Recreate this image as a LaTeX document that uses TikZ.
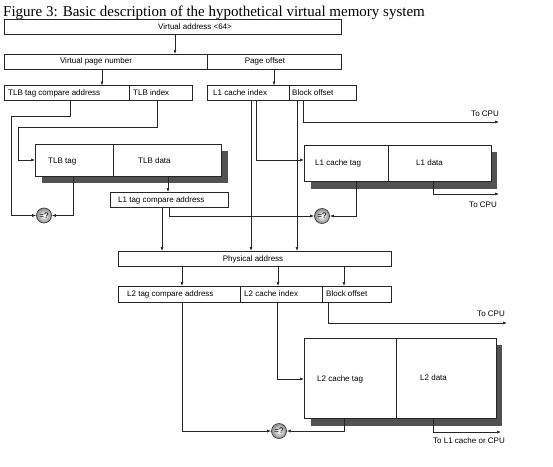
\documentclass[tikz,border=0pt]{standalone}
\usepackage{fontspec}
\setmainfont{Liberation Serif}
\newfontfamily\labfont{Liberation Sans}
\usetikzlibrary{arrows.meta}
\begin{document}
\begin{tikzpicture}[x=1pt,y=-1pt,
  cellbox/.style={draw=black!85, line width=0.7pt, fill=white, inner sep=0pt, outer sep=0pt, anchor=north west},
  shadowbox/.style={fill=black!68, draw=none},
  lab/.style={inner sep=0pt, font=\labfont\fontsize{8}{9.6}\selectfont},
  conn/.style={draw=black!85, line width=0.6pt},
  arr/.style={conn, -{Latex[length=4pt,width=3pt]}},
  cmp/.style={circle, draw=black!75, line width=0.7pt, minimum size=15pt, inner sep=0pt,
    inner color=white, outer color=black!45, font=\labfont\fontsize{8}{9}\selectfont}
]
\useasboundingbox (0,0) rectangle (553,466);
\node[anchor=base west, inner sep=0pt, font=\fontsize{15}{18}\selectfont] (title) at (3,16) {Figure 3: Basic description of the hypothetical virtual memory system};

% shadows
\fill[shadowbox] (42,151) rectangle (228,183);
\fill[shadowbox] (311,152) rectangle (497,189);
\fill[shadowbox] (311,345) rectangle (502,426);

% boxes
\node[cellbox, minimum width=337pt, minimum height=15pt] (va) at (4,19) {};
\node[cellbox, minimum width=203pt, minimum height=15pt] (vpn) at (4,54) {};
\node[cellbox, minimum width=134pt, minimum height=15pt] (po) at (207,54) {};
\node[cellbox, minimum width=125pt, minimum height=15pt] (tca) at (4,85.5) {};
\node[cellbox, minimum width=63pt, minimum height=15pt] (tidx) at (129,85.5) {};
\node[cellbox, minimum width=82pt, minimum height=15pt] (lidx) at (207,85.5) {};
\node[cellbox, minimum width=67pt, minimum height=15pt] (lbo) at (289,85.5) {};
\node[cellbox, minimum width=78pt, minimum height=32pt] (ttag) at (35,144) {};
\node[cellbox, minimum width=108pt, minimum height=32pt] (tdata) at (113,144) {};
\node[cellbox, minimum width=118pt, minimum height=15pt] (ltca) at (110,192) {};
\node[cellbox, minimum width=84pt, minimum height=36pt] (ltag) at (304,145) {};
\node[cellbox, minimum width=103pt, minimum height=36pt] (ldata) at (388,145) {};
\node[cellbox, minimum width=273pt, minimum height=15pt] (pa) at (118,251) {};
\node[cellbox, minimum width=122pt, minimum height=16pt] (mtca) at (118,286) {};
\node[cellbox, minimum width=82pt, minimum height=16pt] (midx) at (240,286) {};
\node[cellbox, minimum width=69pt, minimum height=16pt] (mbo) at (322,286) {};
\node[cellbox, minimum width=92pt, minimum height=80pt] (mtag) at (304,338) {};
\node[cellbox, minimum width=100pt, minimum height=80pt] (mdata) at (396,338) {};

% compare circles
\node[cmp] (c1) at (44,215.5) {=?};
\node[cmp] (c2) at (322,216) {=?};
\node[cmp] (c3) at (279,431) {=?};

% labels
\node[lab] (tva) at (195,27) {Virtual address <64>};
\node[lab] (tvpn) at (96,61.5) {Virtual page number};
\node[lab] (tpo) at (265,61.5) {Page offset};
\node[lab, anchor=west] (ttca) at (8,93) {TLB tag compare address};
\node[lab, anchor=west] (ttidx) at (133,93) {TLB index};
\node[lab, anchor=west] (tlidx) at (213,93) {L1 cache index};
\node[lab, anchor=west] (tlbo) at (292,93) {Block offset};
\node[lab, anchor=west] (tttag) at (48,162) {TLB tag};
\node[lab, anchor=west] (ttdata) at (138,161) {TLB data};
\node[lab, anchor=west] (tltca) at (118,200) {L1 tag compare address};
\node[lab, anchor=west] (tltag) at (315,163) {L1 cache tag};
\node[lab, anchor=west] (tldata) at (416,163) {L1 data};
\node[lab, anchor=east] (cpu1) at (499,114) {To CPU};
\node[lab, anchor=east] (cpu2) at (497,205) {To CPU};
\node[lab] (tpa) at (253,259) {Physical address};
\node[lab, anchor=west] (tmtca) at (127,294) {L2 tag compare address};
\node[lab, anchor=west] (tmidx) at (244,294) {L2 cache index};
\node[lab, anchor=west] (tmbo) at (326,294) {Block offset};
\node[lab, anchor=east] (cpu3) at (505,314) {To CPU};
\node[lab, anchor=west] (tmtag) at (317,379) {L2 cache tag};
\node[lab, anchor=west] (tmdata) at (420,378) {L2 data};
\node[lab, anchor=west] (cpu4) at (433,441) {To L1 cache or CPU};

% free ends
\coordinate (e1) at (499,122);
\coordinate (e2) at (499,194);
\coordinate (e3) at (507,323);
\coordinate (e4) at (501,432);

% connectors
\draw[arr] (va.south -| 175,0) -- (vpn.north -| 175,0);
\draw[arr] (vpn.south -| 102,0) -- (tca.north -| 102,0);
\draw[arr] (po.south -| 274,0) -- (lidx.north -| 274,0);
\draw[arr] (tca.south -| 70,0) -- (70,116) -- (11,116) |- (c1.west);
\draw[arr] (tidx.south -| 157,0) -- (157,127) -- (18,127) |- (ttag.west |- 0,160);
\draw[arr] (ttag.south -| 73,0) |- (c1.east);
\draw[arr] (tdata.south -| 168,0) -- (ltca.north -| 168,0);
\draw[arr] (ltca.south -| 162,0) -- (pa.north -| 162,0);
\draw[arr] (ltca.south -| 169,0) |- (c2.west);
\draw[arr] (lidx.south -| 251,0) -- (pa.north -| 251,0);
\draw[arr] (lidx.south -| 256,0) |- (ltag.west |- 0,160);
\draw[arr] (lbo.south -| 297,0) -- (pa.north -| 297,0);
\draw[arr] (lbo.south -| 303,0) |- (e1);
\draw[arr] (ltag.south -| 356,0) |- (c2.east);
\draw[arr] (ldata.south -| 433,0) |- (e2);
\draw[arr] (pa.south -| 182,0) -- (mtca.north -| 182,0);
\draw[arr] (pa.south -| 278,0) -- (midx.north -| 278,0);
\draw[arr] (pa.south -| 344,0) -- (mbo.north -| 344,0);
\draw[arr] (mtca.south -| 182,0) |- (c3.west);
\draw[arr] (midx.south -| 277,0) |- (mtag.west |- 0,379);
\draw[arr] (mbo.south -| 328,0) |- (e3);
\draw[arr] (mtag.south -| 344,0) |- (c3.east);
\draw[arr] (mdata.south -| 433,0) |- (e4);
\end{tikzpicture}
\end{document}
